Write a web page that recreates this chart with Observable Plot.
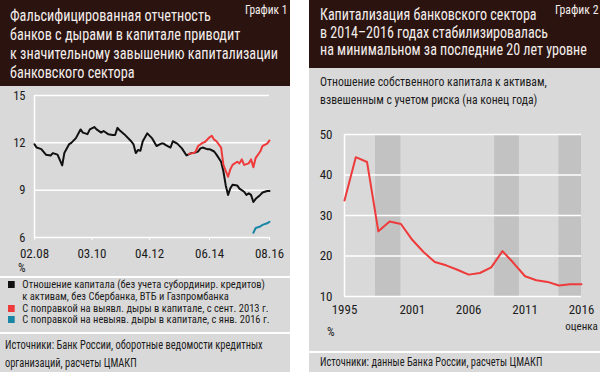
<!DOCTYPE html>
<html>
<head>
<meta charset="utf-8">
<script src="https://cdn.jsdelivr.net/npm/d3@7"></script>
<script src="https://cdn.jsdelivr.net/npm/@observablehq/plot@0.6"></script>
<style>
  html, body { margin: 0; padding: 0; background: #ffffff; }
  #root { position: relative; width: 600px; height: 372px; overflow: hidden;
    font-family: "Liberation Sans Narrow", "Roboto Condensed", "DejaVu Sans Condensed", sans-serif;
    font-stretch: condensed; color: #1c1c1c; }
  .abs { position: absolute; }
  .panel { background: #d9d9d9; }
  .head { background: #2b1410; }
  .title { color: #f4eeec; font-size: 16px; line-height: 19px; white-space: nowrap; transform-origin: 0 0; }
  .tag { color: #f4eeec; font-size: 12px; white-space: nowrap; transform-origin: 0 0; }
  .sep { background: #ffffff; height: 1.5px; }
  .txt { font-size: 12px; white-space: nowrap; transform-origin: 0 0; }
  .sw { display: inline-block; width: 7px; height: 7px; margin-right: 8px; vertical-align: 0px; }
</style>
</head>
<body>
<div id="root">
  <div class="abs panel" style="left:0;top:0;width:290px;height:372px"></div>
  <div class="abs head" style="left:0;top:0;width:290px;height:86px"></div>
  <div class="abs title" id="t1" style="left:10px;top:6px"></div>
  <div class="abs tag" id="tag1" style="left:245px;top:3px"></div>

  <div class="abs panel" style="left:309px;top:0;width:291px;height:372px"></div>
  <div class="abs head" style="left:309px;top:0;width:291px;height:68px"></div>
  <div class="abs title" id="t2" style="left:320px;top:6px;line-height:17.5px"></div>
  <div class="abs tag" id="tag2" style="left:555px;top:3px"></div>
  <div class="abs txt" id="sub2" style="left:320px;top:73px;font-size:13px;line-height:18px"></div>

  <div class="abs" id="plot1" style="left:0;top:86px"></div>
  <div class="abs" id="plot2" style="left:309px;top:118px"></div>

  <div class="abs txt" style="left:18px;top:261px">%</div>
  <div class="abs sep" style="left:0;top:276px;width:290px"></div>
  <div class="abs txt" id="legend1" style="left:8px;top:279px;line-height:11.8px;font-size:11px"></div>
  <div class="abs sep" style="left:0;top:332px;width:290px"></div>
  <div class="abs txt" id="src1" style="left:5px;top:336px;line-height:18px"></div>

  <div class="abs txt" style="left:327px;top:325px">%</div>
  <div class="abs sep" style="left:309px;top:351px;width:291px"></div>
  <div class="abs txt" id="src2" style="left:320px;top:355px"></div>
</div>
<script>
// ---------- Texts ----------
const title1 = ["Фальсифицированная отчетность", "банков с дырами в капитале приводит", "к значительному завышению капитализации", "банковского сектора"];
const title2 = ["Капитализация банковского сектора", "в 2014–2016 годах стабилизировалась", "на минимальном за последние 20 лет уровне"];
const tag1 = "График 1";
const tag2 = "График 2";
const subtitle2 = ["Отношение собственного капитала к активам,", "взвешенным с учетом риска (на конец года)"];
const legendLabels = [
  ["Отношение капитала (без учета субординир. кредитов)", "к активам, без Сбербанка, ВТБ и Газпромбанка"],
  ["С поправкой на выявл. дыры в капитале, с сент. 2013 г."],
  ["С поправкой на невыяв. дыры в капитале, с янв. 2016 г."]
];
const legendColors = ["#111111", "#ee3a3a", "#1a86a6"];
const source1 = ["Источники: Банк России, оборотные ведомости кредитных", "организаций, расчеты ЦМАКП"];
const source2 = ["Источники: данные Банка России, расчеты ЦМАКП"];

// ---------- Chart 1 data (%, monthly) ----------
const blackDates = ["2008-02","2008-03","2008-05","2008-07","2008-09","2008-10","2008-12","2009-02","2009-03","2009-05","2009-06","2009-08","2009-10","2009-11","2010-01","2010-02","2010-04","2010-05","2010-07","2010-08","2010-10","2010-12","2011-01","2011-02","2011-03","2011-05","2011-08","2011-09","2011-10","2011-11","2011-12","2012-01","2012-03","2012-05","2012-07","2012-09","2012-10","2012-11","2013-01","2013-02","2013-04","2013-06","2013-08","2013-10","2013-11","2014-01","2014-02","2014-03","2014-05","2014-06","2014-08","2014-09","2014-11","2014-12","2015-01","2015-02","2015-03","2015-04","2015-06","2015-07","2015-09","2015-10","2015-11","2015-12","2016-01","2016-02","2016-04","2016-05","2016-07","2016-08"];
const blackValues = [11.9,11.7,11.6,11.25,11.2,11.35,11.25,10.57,11.35,11.9,12.0,12.3,12.85,12.65,12.55,12.85,13.0,12.85,12.65,12.75,12.55,12.5,12.5,12.95,12.8,12.55,12.1,11.9,11.35,11.55,11.5,12.1,12.6,12.3,11.8,11.95,11.95,11.85,11.7,12.1,11.95,11.65,11.2,11.35,11.35,11.45,11.65,11.7,11.6,11.6,11.45,11.25,10.8,10.2,9.3,8.7,9.1,9.35,9.3,9.1,8.9,8.7,8.8,8.7,8.25,8.45,8.7,8.85,8.95,8.95];
const redDates = ["2013-09","2013-11","2013-12","2014-01","2014-03","2014-04","2014-06","2014-07","2014-08","2014-09","2014-11","2014-12","2015-02","2015-03","2015-04","2015-06","2015-07","2015-08","2015-09","2015-11","2015-12","2016-01","2016-02","2016-04","2016-05","2016-07","2016-08"];
const redValues = [11.3,11.35,11.45,11.8,12.0,12.05,12.35,12.45,12.2,12.1,11.7,10.6,9.85,10.3,10.6,10.8,10.7,10.95,10.6,10.7,10.95,10.45,11.05,11.45,11.8,11.95,12.15];
const blueDates = ["2016-01","2016-02","2016-04","2016-05","2016-07","2016-08"];
const blueValues = [6.3,6.6,6.7,6.8,6.9,7.0];
const chart1TickDates = ["2008-02","2010-03","2012-04","2014-06","2016-08"];
const chart1TickLabels = ["02.08","03.10","04.12","06.14","08.16"];
const chart1YTicks = [6, 9, 12, 15];

// ---------- Chart 2 data (%, year end) ----------
const years = [1995,1996,1997,1998,1999,2000,2001,2002,2003,2004,2005,2006,2007,2008,2009,2010,2011,2012,2013,2014,2015,2016];
const capitalRatio = [33.7,44.4,43.2,26.1,28.5,27.9,24.0,21.0,18.5,17.7,16.6,15.4,15.8,17.2,21.2,18.2,15.0,14.0,13.6,12.7,13.0,13.0];
const bandStart = [1997.75, 2008.3, 2014.0];
const bandEnd = [2000.0, 2010.5, 2016.0];
const chart2XTicks = [1995, 2001, 2006, 2011, 2016];
const chart2XLabels = ["1995", "2001", "2006", "2011", "2016"];
const chart2Note = ["оценка"];
const chart2YTicks = [10, 20, 30, 40, 50];

// ---------- Text rendering ----------
const FONT = '"Liberation Sans Narrow", "Roboto Condensed", "DejaVu Sans Condensed", sans-serif';
const $ = id => document.getElementById(id);
$("t1").innerHTML = title1.join("<br>");
$("t2").innerHTML = title2.join("<br>");
$("tag1").textContent = tag1;
$("tag2").textContent = tag2;
$("sub2").innerHTML = subtitle2.join("<br>");
$("src1").innerHTML = source1.join("<br>");
$("src2").innerHTML = source2.join("<br>");
$("legend1").innerHTML = legendLabels.map((lines, i) =>
  lines.map((l, j) => `<div style="padding-left:${j ? 15 : 0}px">${j ? "" : `<span class="sw" style="background:${legendColors[i]}"></span>`}${l}</div>`).join("")
).join("");
// condense text horizontally to the reference's narrow typeface widths
const fit = (id, w) => { const el = $(id); const k = w / el.offsetWidth; el.style.transform = `scaleX(${k})`; };
fit("t1", 268); fit("t2", 267); fit("tag1", 42); fit("tag2", 43);
fit("sub2", 227); fit("legend1", 262); fit("src1", 258); fit("src2", 222);

const parseM = d3.utcParse("%Y-%m");
const series = (dates, vals, name) => d3.zip(dates, vals).map(([d, v]) => ({date: parseM(d), value: v, s: name}));
const black = series(blackDates, blackValues, "black");
const red = series(redDates, redValues, "red");
const blue = series(blueDates, blueValues, "blue");
const tickDates = chart1TickDates.map(parseM);
const labelOf = new Map(tickDates.map((d, i) => [+d, chart1TickLabels[i]]));

const plot1 = Plot.plot({
  width: 290, height: 180,
  marginLeft: 34, marginRight: 21, marginTop: 9, marginBottom: 29,
  style: {background: "transparent", fontFamily: FONT, fontSize: "12px", color: "#1c1c1c", overflow: "visible"},
  x: {type: "utc", domain: [tickDates[0], tickDates[tickDates.length - 1]]},
  y: {domain: [6, 15]},
  marks: [
    Plot.ruleY(chart1YTicks, {stroke: "#ffffff", strokeWidth: 1.5}),
    Plot.ruleX([tickDates[0]], {stroke: "#ffffff", strokeWidth: 1.5}),
    Plot.lineY(black, {x: "date", y: "value", stroke: legendColors[0], strokeWidth: 2}),
    Plot.lineY(red, {x: "date", y: "value", stroke: legendColors[1], strokeWidth: 2}),
    Plot.lineY(blue, {x: "date", y: "value", stroke: legendColors[2], strokeWidth: 2}),
    Plot.axisX({ticks: tickDates, tickFormat: d => labelOf.get(+d), tickSize: 3, stroke: "#ffffff", tickPadding: 8, fontSize: 13, label: null}),
    Plot.axisY({ticks: chart1YTicks, tickSize: 0, tickPadding: 9, fontSize: 12.5, label: null})
  ]
});
$("plot1").appendChild(plot1);

const capData = d3.zip(years, capitalRatio).map(([y, v]) => ({year: y, value: v}));
const bands = d3.zip(bandStart, bandEnd).map(([a, b]) => ({a, b}));
const plot2 = Plot.plot({
  width: 291, height: 220,
  marginLeft: 35, marginRight: 19, marginTop: 16, marginBottom: 42,
  style: {background: "transparent", fontFamily: FONT, fontSize: "12px", color: "#1c1c1c", overflow: "visible"},
  x: {domain: [1995, 2016]},
  y: {domain: [10, 50]},
  marks: [
    Plot.rect(bands, {x1: "a", x2: "b", y1: 10, y2: 50, fill: "#c2c2c2"}),
    Plot.ruleY(chart2YTicks, {stroke: "#ffffff", strokeWidth: 1.5}),
    Plot.ruleX([chart2XTicks[0]], {stroke: "#ffffff", strokeWidth: 1.5}),
    Plot.line(capData, {x: "year", y: "value", stroke: "#ee3a3a", strokeWidth: 2}),
    Plot.axisX({ticks: chart2XTicks, tickFormat: d => chart2XLabels[chart2XTicks.indexOf(d)], tickSize: 0, tickPadding: 8, fontSize: 13, label: null}),
    Plot.text(chart2Note, {x: () => chart2XTicks[chart2XTicks.length - 1], y: () => 10, dy: 30, fontSize: 11, fill: "#1c1c1c"}),
    Plot.axisY({ticks: chart2YTicks, tickSize: 0, tickPadding: 12, fontSize: 13, label: null})
  ]
});
$("plot2").appendChild(plot2);
</script>
</body>
</html>
